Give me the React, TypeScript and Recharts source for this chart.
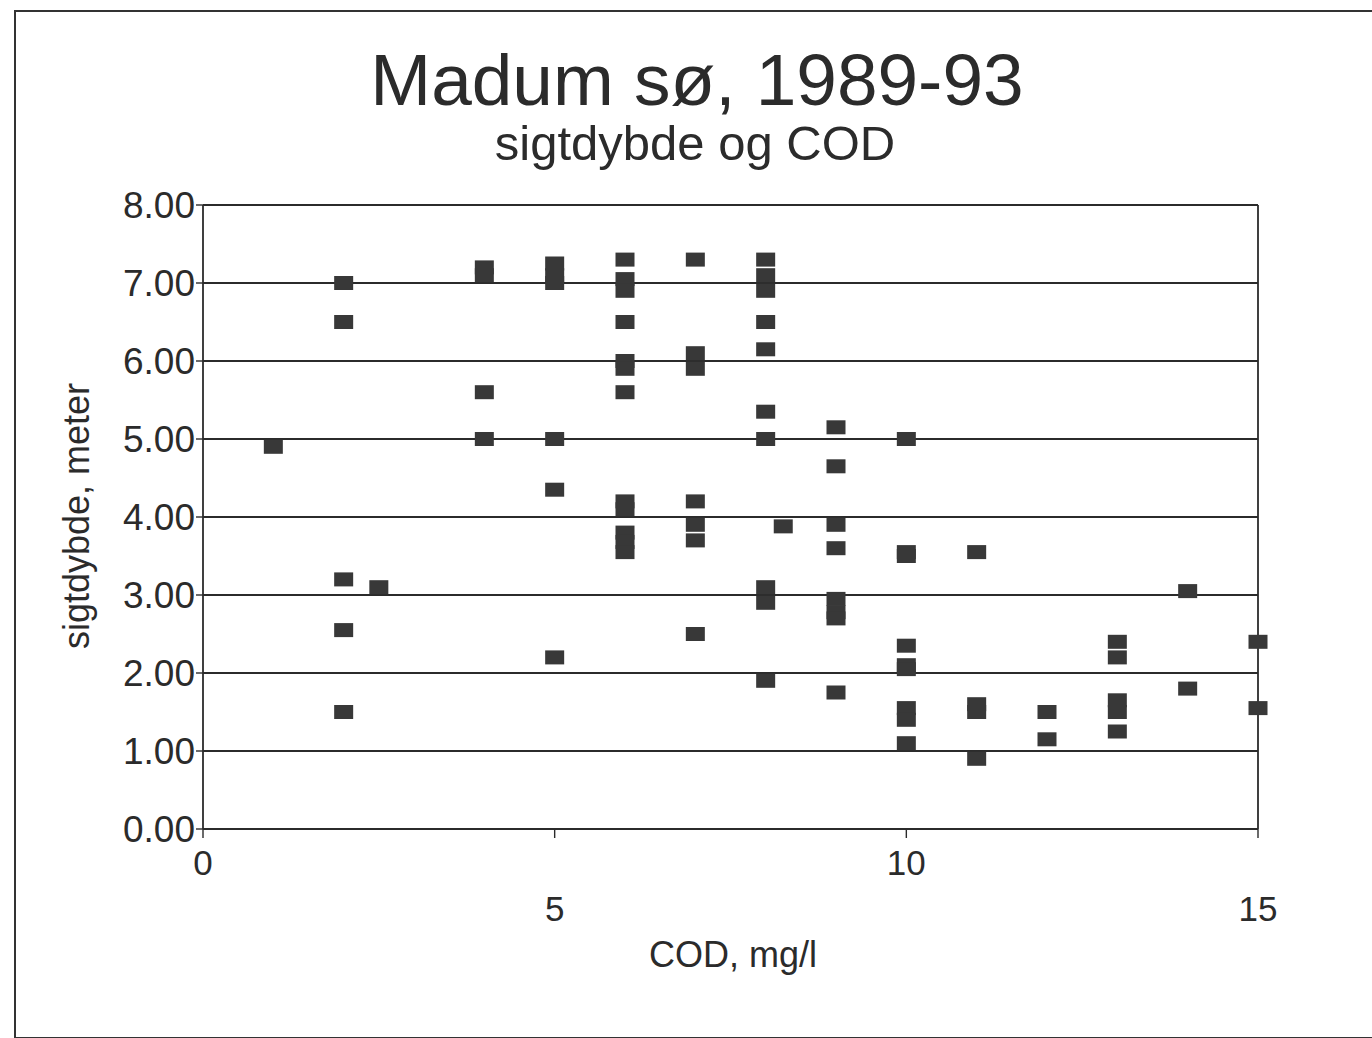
import { ScatterChart, Scatter, XAxis, YAxis, CartesianGrid, ReferenceLine } from "recharts";

// COD (mg/l) and matching sigtdybde (meter), read column by column
const cod = [
  1,
  2, 2, 2, 2, 2,
  2.5,
  4, 4, 4, 4,
  5, 5, 5, 5, 5, 5,
  6, 6, 6, 6, 6, 6, 6, 6, 6, 6, 6, 6,
  7, 7, 7, 7, 7, 7, 7,
  8, 8, 8, 8, 8, 8, 8, 8, 8, 8,
  8.25,
  9, 9, 9, 9, 9, 9, 9, 9,
  10, 10, 10, 10, 10, 10, 10, 10, 10,
  11, 11, 11, 11,
  12, 12,
  13, 13, 13, 13, 13,
  14, 14,
  15, 15,
];

const sigtdybde = [
  4.9,
  7.0, 6.5, 3.2, 2.55, 1.5,
  3.1,
  7.2, 7.1, 5.6, 5.0,
  7.25, 7.1, 7.0, 5.0, 4.35, 2.2,
  7.3, 7.05, 6.9, 6.5, 6.0, 5.9, 5.6, 4.2, 4.1, 3.8, 3.68, 3.55,
  7.3, 6.1, 5.9, 4.2, 3.9, 3.7, 2.5,
  7.3, 7.1, 6.9, 6.5, 6.15, 5.35, 5.0, 3.1, 2.9, 1.9,
  3.88,
  5.15, 4.65, 3.9, 3.6, 2.95, 2.78, 2.7, 1.75,
  5.0, 3.55, 3.5, 2.35, 2.1, 2.05, 1.55, 1.4, 1.1,
  3.55, 1.6, 1.5, 0.9,
  1.5, 1.15,
  2.4, 2.2, 1.65, 1.5, 1.25,
  3.05, 1.8,
  2.4, 1.55,
];

const xTicks = [0, 5, 10, 15];
const yTicks = [0, 1, 2, 3, 4, 5, 6, 7, 8];

const data = cod.map((c, i) => ({ cod: c, depth: sigtdybde[i] }));

const FONT = "'Liberation Sans', Arial, sans-serif";
const INK = "#2b2b2b";

const Square = (props: any) => (
  <rect x={props.cx - 9.5} y={props.cy - 7} width={19} height={14} fill="#383838" />
);

// 0 and 10 sit high, 5 and 15 sit low
const XTick = ({ x, y, payload }: any) => {
  const low = payload.value === 5 || payload.value === 15;
  return (
    <text x={x} y={y + (low ? 81 : 35)} textAnchor="middle" fontSize={35} fill={INK} fontFamily={FONT}>
      {payload.value}
    </text>
  );
};

export default function App() {
  return (
    <div style={{ position: "absolute", left: 0, top: 0, width: 1372, height: 1038, background: "#fff", overflow: "hidden" }}>
      <div
        style={{
          position: "absolute",
          left: 14,
          top: 10,
          width: 1400,
          height: 1025,
          borderLeft: "2px solid #333",
          borderTop: "2px solid #333",
          borderBottom: "2px solid #333",
        }}
      />
      <ScatterChart
        width={1372}
        height={1038}
        margin={{ top: 205, right: 114, bottom: 109, left: 93 }}
        style={{ position: "absolute", left: 0, top: 0 }}
      >
        <CartesianGrid horizontal vertical={false} stroke={INK} strokeWidth={1.8} />
        <XAxis
          type="number"
          dataKey="cod"
          domain={[0, 15]}
          ticks={xTicks}
          height={100}
          tickSize={9}
          tick={<XTick />}
          axisLine={{ stroke: INK, strokeWidth: 1.8 }}
          tickLine={{ stroke: INK, strokeWidth: 1.4 }}
        />
        <YAxis
          type="number"
          dataKey="depth"
          domain={[0, 8]}
          ticks={yTicks}
          width={110}
          tickSize={7}
          tickMargin={1}
          tickFormatter={(v: number) => v.toFixed(2)}
          tick={{ fontSize: 37, fill: INK, fontFamily: FONT }}
          axisLine={{ stroke: INK, strokeWidth: 1.8 }}
          tickLine={{ stroke: INK, strokeWidth: 1.4 }}
        />
        <ReferenceLine x={15} stroke={INK} strokeWidth={1.8} />
        <Scatter data={data} shape={<Square />} isAnimationActive={false} />
      </ScatterChart>
      <svg width={1372} height={1038} style={{ position: "absolute", left: 0, top: 0, pointerEvents: "none" }}>
        <text x={697} y={105} textAnchor="middle" fontSize={73} fill={INK} fontFamily={FONT}>
          Madum sø, 1989-93
        </text>
        <text x={695} y={160} textAnchor="middle" fontSize={49} fill={INK} fontFamily={FONT}>
          sigtdybde og COD
        </text>
        <text
          x={0}
          y={0}
          transform="translate(89,516) rotate(-90)"
          textAnchor="middle"
          fontSize={36}
          fill={INK}
          fontFamily={FONT}
        >
          sigtdybde, meter
        </text>
        <text x={733} y={967} textAnchor="middle" fontSize={36} fill={INK} fontFamily={FONT}>
          COD, mg/l
        </text>
      </svg>
    </div>
  );
}
